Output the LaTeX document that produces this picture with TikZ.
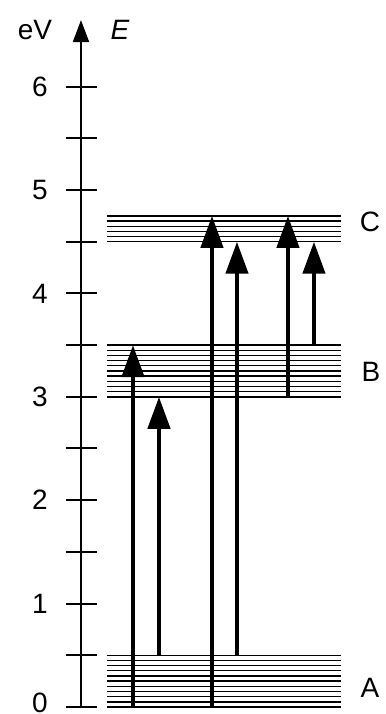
\documentclass[tikz,border=0pt]{standalone}
\usepackage{fontspec}
\setmainfont{Liberation Sans}
\usetikzlibrary{arrows.meta}

\begin{document}
\begin{tikzpicture}[x=0.5pt, y=51.7pt,
        nivel/.style={line width=0.7pt, black},
        salto/.style={line width=2.2pt, -{Triangle[width=11pt,length=16pt]}},
        font=\fontsize{14}{17}\selectfont]
        \useasboundingbox (0,-0.068) rectangle (386,6.838);

        % Eje de energia
        \draw[line width=1pt, -{Triangle[width=8pt,length=11pt]}] (81,0) -- (81,6.644);
        \foreach \e in {0,0.5,...,6}
            \draw[line width=1pt] (66,\e) -- (97,\e);
        \foreach \e in {1,...,6}
            \node at (40,\e) {\e};
        \node at (40,0.04) {0};
        \node at (35,6.547) {eV};
        \node at (120,6.547) {\textit{E}};

        % Bandas A, B y C
        \foreach \i in {0,...,10}
            \draw[nivel] (107,\i*0.05) -- (341,\i*0.05);
        \foreach \i in {0,...,10}
            \draw[nivel] (107,3+\i*0.05) -- (341,3+\i*0.05);
        \foreach \i in {0,...,5}
            \draw[nivel] (107,4.5+\i*0.05) -- (341,4.5+\i*0.05);
        \node at (370,0.18) {A};
        \node at (371,3.24) {B};
        \node at (370,4.69) {C};

        % Transiciones
        \draw[salto] (133,0) -- (133,3.5);
        \draw[salto] (159,0.5) -- (159,3);
        \draw[salto] (212,0) -- (212,4.75);
        \draw[salto] (237,0.5) -- (237,4.5);
        \draw[salto] (288,3) -- (288,4.75);
        \draw[salto] (314,3.5) -- (314,4.5);
\end{tikzpicture}
\end{document}
